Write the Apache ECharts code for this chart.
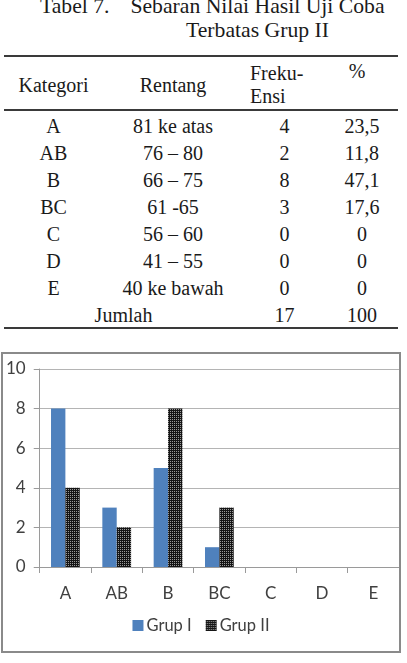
<!DOCTYPE html>
<html>
<head>
<meta charset="utf-8">
<script src="https://cdn.jsdelivr.net/npm/echarts@6/dist/echarts.min.js"></script>
<style>
  body { margin: 0; width: 407px; height: 663px; background: #fff; overflow: hidden; position: relative; }
  .serif { font-family: "Liberation Serif", "Times New Roman", serif; font-size: 20px; color: #1a1a1a; position: absolute; white-space: nowrap; }
  .rule { position: absolute; left: 4px; width: 394px; height: 2px; background: #3a3a3a; }
  #chart { position: absolute; left: 1px; top: 352px; width: 400px; height: 301px; border: 2px solid #8a8a8a; box-sizing: border-box; }
</style>
</head>
<body>
<div class="serif" style="left:40px;top:-6px;font-size:21.7px;line-height:24px;">Tabel 7.</div>
<div class="serif" style="left:120px;top:-6px;width:275px;text-align:center;font-size:21.7px;line-height:24px;">Sebaran Nilai Hasil Uji Coba<br>Terbatas Grup II</div>

<div class="rule" style="top:55px;"></div>
<div class="rule" style="top:109px;"></div>
<div class="rule" style="top:327px;"></div>

<div class="serif" style="left:4px;width:99px;text-align:center;top:72px;line-height:27px;">Kategori</div>
<div class="serif" style="left:103px;width:140px;text-align:center;top:72px;line-height:27px;">Rentang</div>
<div class="serif" style="left:250px;top:62px;line-height:23px;">Freku-<br>Ensi</div>
<div class="serif" style="left:326px;width:62px;text-align:center;top:58px;line-height:27px;">%</div>

<div id="rows"></div>
<div id="chart"></div>

<script>
// table values
var kategori = ["A", "AB", "B", "BC", "C", "D", "E"];
var rentang = ["81 ke atas", "76 – 80", "66 – 75", "61 -65", "56 – 60", "41 – 55", "40 ke bawah"];
var frekuensi = ["4", "2", "8", "3", "0", "0", "0"];
var persen = ["23,5", "11,8", "47,1", "17,6", "0", "0", "0"];
var jumlahFrek = "17";
var jumlahPersen = "100";

// chart values
var categories = ["A", "AB", "B", "BC", "C", "D", "E"];
var grupI = [8, 3, 5, 1, 0, 0, 0];
var grupII = [4, 2, 8, 3, 0, 0, 0];

// table body
var cols = [[4, 99], [103, 140], [243, 83], [326, 72]];
var rowsEl = document.getElementById("rows");
function cell(text, col, i) {
  var d = document.createElement("div");
  d.className = "serif";
  d.style.left = col[0] + "px";
  d.style.width = col[1] + "px";
  d.style.textAlign = "center";
  d.style.top = (113 + 27 * i) + "px";
  d.style.lineHeight = "27px";
  d.textContent = text;
  rowsEl.appendChild(d);
}
for (var i = 0; i < kategori.length; i++) {
  cell(kategori[i], cols[0], i);
  cell(rentang[i], cols[1], i);
  cell(frekuensi[i], cols[2], i);
  cell(persen[i], cols[3], i);
}
cell("Jumlah", [4, 239], 7);
cell(jumlahFrek, cols[2], 7);
cell(jumlahPersen, cols[3], 7);

// dotted dark fill for Grup II
function hatch() {
  var c = document.createElement("canvas");
  c.width = 2; c.height = 2;
  var g = c.getContext("2d");
  g.fillStyle = "#151515";
  g.fillRect(0, 0, 2, 2);
  g.fillStyle = "#9a9a9a";
  g.fillRect(1, 1, 1, 1);
  return c;
}

var myChart = echarts.init(document.getElementById("chart"));

var labelFont = { fontFamily: "Lato", fontSize: 17, color: "#404040" };

var option = {
  animation: false,
  grid: { left: 36, right: 0, top: 15, bottom: 84 },
  legend: {
    data: ["Grup I", "Grup II"],
    left: "center",
    top: 258,
    icon: "rect",
    itemWidth: 11,
    itemHeight: 11,
    itemGap: 14,
    textStyle: { fontFamily: "Lato", fontSize: 16.5, color: "#404040", padding: [0, 0, 0, -2] }
  },
  xAxis: {
    type: "category",
    data: categories,
    axisLine: { lineStyle: { color: "#9a9a9a", width: 1 } },
    axisTick: { show: true, length: 6, lineStyle: { color: "#9a9a9a" } },
    axisLabel: Object.assign({ margin: 18 }, labelFont)
  },
  yAxis: {
    type: "value",
    min: 0,
    max: 10,
    interval: 2,
    axisLine: { show: true, lineStyle: { color: "#9a9a9a", width: 1 } },
    axisTick: { show: true, length: 6, lineStyle: { color: "#9a9a9a" } },
    splitLine: { lineStyle: { color: "#b4b4b4", width: 1 } },
    axisLabel: Object.assign({ margin: 14 }, labelFont)
  },
  series: [
    {
      name: "Grup I",
      type: "bar",
      data: grupI,
      barGap: "0%",
      barCategoryGap: "44%",
      itemStyle: { color: "#4f81bd" }
    },
    {
      name: "Grup II",
      type: "bar",
      data: grupII,
      barGap: "0%",
      barCategoryGap: "44%",
      itemStyle: { color: { image: hatch(), repeat: "repeat" } }
    }
  ]
};

myChart.setOption(option);
</script>
</body>
</html>
